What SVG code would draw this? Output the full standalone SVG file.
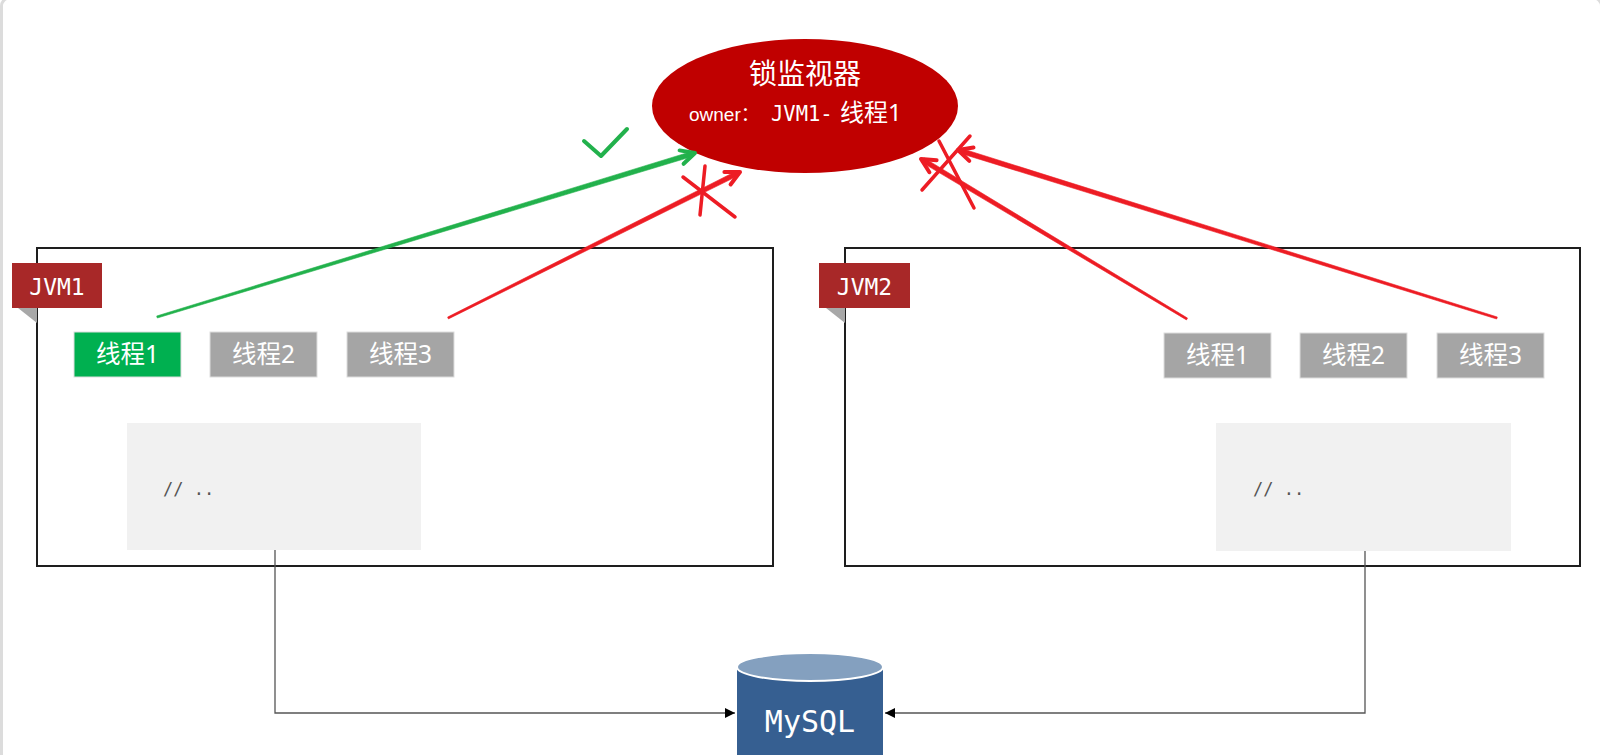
<svg xmlns="http://www.w3.org/2000/svg" width="1600" height="755" viewBox="0 0 1600 755">
<defs>
<style>
.frame{fill:#ffffff;stroke:#dcdcdc;stroke-width:3}
.jvm{fill:#ffffff;stroke:#1e1e1e;stroke-width:2}
.tag{fill:#a82828}
.fold{fill:#a8a8a8}
.tagtxt{font-family:"DejaVu Sans Mono","Liberation Mono",monospace;font-size:23px;fill:#ffffff;text-anchor:middle}
.thr{fill:#a5a5a5;stroke:#dddddd;stroke-width:1}
.thrg{fill:#00b050;stroke:#dddddd;stroke-width:1}
.thrtxt{font-family:"Noto Sans","Noto Sans CJK SC",sans-serif;font-size:24.5px;fill:#ffffff;text-anchor:middle}
.code{fill:#f1f1f1}
.codetxt{font-family:"DejaVu Sans Mono","Liberation Mono",monospace;font-size:17px;fill:#555555}
.wire{fill:none;stroke:#555555;stroke-width:1.3}
.shaftG{fill:#22b14c;stroke:#22b14c;stroke-width:0.6;stroke-linejoin:round}
.shaftR{fill:#ed1c24;stroke:#ed1c24;stroke-width:0.6;stroke-linejoin:round}
.headG{fill:none;stroke:#22b14c;stroke-width:4;stroke-linecap:round;stroke-linejoin:round}
.headR{fill:none;stroke:#ed1c24;stroke-width:4;stroke-linecap:round;stroke-linejoin:round}
.markG{fill:none;stroke:#22b14c;stroke-width:4;stroke-linecap:round;stroke-linejoin:round}
.markR{fill:none;stroke:#ed1c24;stroke-width:3.5;stroke-linecap:round}
</style>
<marker id="tri" viewBox="0 0 10 10" refX="10" refY="5" markerWidth="10" markerHeight="10" markerUnits="userSpaceOnUse" orient="auto">
<path d="M0,0 L10,5 L0,10 Z" fill="#000000"/>
</marker>
</defs>

<rect class="frame" x="1.5" y="-2" width="1600" height="770" rx="8"/>

<g id="jvm1">
<rect class="jvm" x="37" y="248" width="736" height="318"/>
<polygon class="fold" points="18,308 37,308 37,323"/>
<rect class="tag" x="12" y="263" width="90" height="45"/>
<text class="tagtxt" x="57" y="295">JVM1</text>
</g>
<g id="jvm1-t1"><rect class="thrg" x="74" y="332" width="107" height="45"/><text class="thrtxt" x="127.5" y="363">线程1</text></g>
<g id="jvm1-t2"><rect class="thr" x="210" y="332" width="107" height="45"/><text class="thrtxt" x="263.5" y="363">线程2</text></g>
<g id="jvm1-t3"><rect class="thr" x="347" y="332" width="107" height="45"/><text class="thrtxt" x="400.5" y="363">线程3</text></g>
<g id="jvm1-code"><rect class="code" x="127" y="423" width="294" height="127"/><text class="codetxt" x="163" y="495">// ..</text></g>

<g id="jvm2">
<rect class="jvm" x="845" y="248" width="735" height="318"/>
<polygon class="fold" points="826,308 845,308 845,323"/>
<rect class="tag" x="819" y="263" width="91" height="45"/>
<text class="tagtxt" x="864.5" y="295">JVM2</text>
</g>
<g id="jvm2-t1"><rect class="thr" x="1164" y="333" width="107" height="45"/><text class="thrtxt" x="1217.5" y="364">线程1</text></g>
<g id="jvm2-t2"><rect class="thr" x="1300" y="333" width="107" height="45"/><text class="thrtxt" x="1353.5" y="364">线程2</text></g>
<g id="jvm2-t3"><rect class="thr" x="1437" y="333" width="107" height="45"/><text class="thrtxt" x="1490.5" y="364">线程3</text></g>
<g id="jvm2-code"><rect class="code" x="1216" y="423" width="295" height="128"/><text class="codetxt" x="1253" y="495">// ..</text></g>

<g id="monitor">
<ellipse cx="805" cy="106" rx="153" ry="67" fill="#c00000"/>
<text x="805" y="84" font-family="Noto Sans CJK SC,sans-serif" font-size="28" fill="#ffffff" text-anchor="middle">锁监视器</text>
<text y="121" fill="#ffffff"><tspan x="689" font-size="19" font-family="Liberation Sans,Noto Sans CJK SC,sans-serif">owner：</tspan><tspan x="771" font-size="20.5" font-family="DejaVu Sans Mono,Liberation Mono,monospace">JVM1-</tspan><tspan x="840" font-family="Noto Sans,Noto Sans CJK SC,sans-serif" font-size="24">线程1</tspan></text>
</g>

<g id="mysql">
<path d="M737,667 L737,760 L883,760 L883,667 Z" fill="#365f91"/>
<ellipse cx="810" cy="667" rx="73" ry="14" fill="#84a0bf" stroke="#ffffff" stroke-width="2"/>
<text x="810" y="732" font-family="DejaVu Sans Mono,Liberation Mono,monospace" font-size="30" fill="#ffffff" text-anchor="middle">MySQL</text>
</g>

<g id="connectors">
<polyline class="wire" points="275,550 275,713 735,713" marker-end="url(#tri)"/>
<polyline class="wire" points="1365,551 1365,713 885,713" marker-end="url(#tri)"/>

<polygon class="shaftG" points="156.7,316.0 692.4,151.2 693.8,156.0 157.3,318.0"/>
<polyline class="headG" points="679.6,150.4 695,153 683.6,163.8"/>

<polygon class="shaftR" points="447.6,317.1 737.1,170.7 739.3,175.1 448.4,318.9"/>
<polyline class="headR" points="724.4,172.0 740,172 730.6,184.5"/>

<polygon class="shaftR" points="1186.5,319.9 921.4,162.1 924.0,157.9 1187.5,318.1"/>
<polyline class="headR" points="936.6,160.2 921,159 929.4,172.2"/>

<polygon class="shaftR" points="1496.7,319.0 959.2,153.0 960.6,148.2 1497.3,317.0"/>
<polyline class="headR" points="973.5,147.5 958,150 969.3,160.9"/>
</g>

<g id="marks">
<polyline class="markG" points="584,141 601,156 627,129"/>
<line class="markR" x1="683" y1="177" x2="735" y2="217"/>
<line class="markR" x1="705" y1="166" x2="700" y2="215"/>
<line class="markR" x1="939" y1="141" x2="974" y2="208"/>
<line class="markR" x1="970" y1="136" x2="922" y2="190"/>
</g>
</svg>
